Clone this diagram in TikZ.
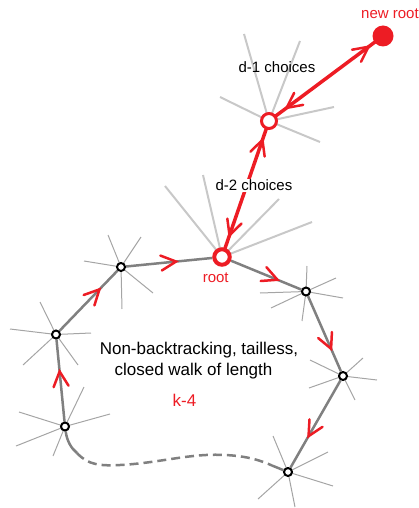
\documentclass[tikz,border=0pt]{standalone}
\usepackage{fontspec}
\setmainfont{Liberation Sans}
\usetikzlibrary{decorations.markings}
\definecolor{pred}{RGB}{237,28,36}
\definecolor{wgray}{RGB}{128,128,128}
\definecolor{sgray}{RGB}{165,165,165}
\definecolor{cgray}{RGB}{200,200,200}
\pgfdeclarelayer{bg}
\pgfsetlayers{bg,main}
\newcommand{\chevf}{\draw[chevline] (-15pt,7.5pt) -- (0pt,0pt) -- (-15pt,-7.5pt);}
\newcommand{\chevb}{\draw[chevline] (15pt,7.5pt) -- (0pt,0pt) -- (15pt,-7.5pt);}
\tikzset{
  chevline/.style={draw=pred,line width=2.5pt,line cap=round,line join=miter,solid},
  wnode/.style={circle,draw=black,fill=white,line width=2pt,minimum size=8pt,inner sep=0pt},
  rnode/.style={circle,draw=pred,fill=white,line width=3pt,minimum size=15pt,inner sep=0pt},
  rootnode/.style={circle,draw=pred,fill=white,line width=4pt,minimum size=15.5pt,inner sep=0pt},
  newnode/.style={circle,fill=pred,minimum size=21pt,inner sep=0pt},
  walk/.style={draw=wgray,line width=2.5pt},
  redge/.style={draw=pred,line width=3.5pt},
  wspoke/.style={draw=sgray,line width=1pt},
  cspoke/.style={draw=cgray,line width=2pt},
  midchev/.style={postaction={decorate},decoration={markings,mark=at position #1 with {\chevf}}},
  lbl/.style={inner sep=0pt,font=\fontsize{15}{18}\selectfont},
  big/.style={inner sep=0pt,font=\fontsize{17}{21}\selectfont}
}
\begin{document}
\begin{tikzpicture}[x=1pt,y=-1pt]
\useasboundingbox (0,0) rectangle (418,508);
% nodes
\node[newnode] (nr) at (383,36) {};
\node[rnode] (n1) at (269,121) {};
\node[rootnode] (root) at (222,257) {};
\node[wnode] (v1) at (121,267) {};
\node[wnode] (v2) at (56,334.5) {};
\node[wnode] (v3) at (65,426.5) {};
\node[wnode] (v4) at (306,291.5) {};
\node[wnode] (v5) at (343,376) {};
\node[wnode] (v6) at (288,472) {};
% labels
\node[lbl,text=pred,anchor=base west] (lnr) at (361,18.5) {new root};
\node[lbl,anchor=base] (l1) at (277,72.3) {d-1 choices};
\node[lbl,anchor=base,fill=white,inner sep=1pt] (l2) at (254,190.7) {d-2 choices};
\node[lbl,text=pred,anchor=base] (lroot) at (215.7,282.7) {root};
\node[big,anchor=base] (t1) at (199,354) {Non-backtracking, tailless,};
\node[big,anchor=base] (t2) at (193.5,375.5) {closed walk of length};
\node[big,anchor=base,text=pred] (t3) at (184.5,406.5) {k-4};
\begin{pgfonlayer}{bg}
% spokes of the choice nodes
\foreach \x/\y in {244/34,300/41,220/97,334/107,320/142}
  \draw[cspoke] (n1.center) -- (\x,\y);
\foreach \x/\y in {203/175,165/186,279/199,312/222}
  \draw[cspoke] (root.center) -- (\x,\y);
% spokes of the walk nodes
\foreach \x/\y in {108/235,141/237,84/261,153/293,122/309}
  \draw[wspoke] (v1.center) -- (\x,\y);
\foreach \x/\y in {40/302,10/329,91/333,23/365,78/365}
  \draw[wspoke] (v2.center) -- (\x,\y);
\foreach \x/\y in {84/387,19/412,110/414,16/446,53/456}
  \draw[wspoke] (v3.center) -- (\x,\y);
\foreach \x/\y in {307/266,336/278,260/293,343/298,271/308,302/321}
  \draw[wspoke] (v4.center) -- (\x,\y);
\foreach \x/\y in {363/358,310/360,377/380,309/388,355/400}
  \draw[wspoke] (v5.center) -- (\x,\y);
\foreach \x/\y in {273/436,328/452,333/486,258/499,295/507}
  \draw[wspoke] (v6.center) -- (\x,\y);
% red edges
\draw[redge,postaction={decorate},decoration={markings,
   mark=at position 22pt with {\chevb},
   mark=at position -18pt with {\chevf}}] (n1.center) -- (nr.center);
\draw[redge,postaction={decorate},decoration={markings,
   mark=at position 23pt with {\chevb},
   mark=at position -20pt with {\chevf}}] (root.center) -- (n1.center);
% walk edges
\draw[walk,midchev=0.58] (v1) -- (root);
\draw[walk,midchev=0.66] (root) -- (v4);
\draw[walk,midchev=0.70] (v4) -- (v5);
\draw[walk,midchev=0.64] (v5) -- (v6);
\draw[walk,midchev=0.61] (v3) -- (v2);
\draw[walk,midchev=0.69] (v2) -- (v1);
% closing part of the walk
\coordinate (d1) at (77,453);
\coordinate (d2) at (272,465.5);
\draw[walk] (v3) .. controls (67,441) and (71,448) .. (d1);
\draw[walk,dash pattern=on 9pt off 5pt] (d1) .. controls (88,465) and (100,466) .. (120,465)
   .. controls (160,463) and (190,453) .. (225,455)
   .. controls (248,456) and (262,461) .. (d2);
\draw[walk] (d2) -- (v6);
\end{pgfonlayer}
\end{tikzpicture}
\end{document}
